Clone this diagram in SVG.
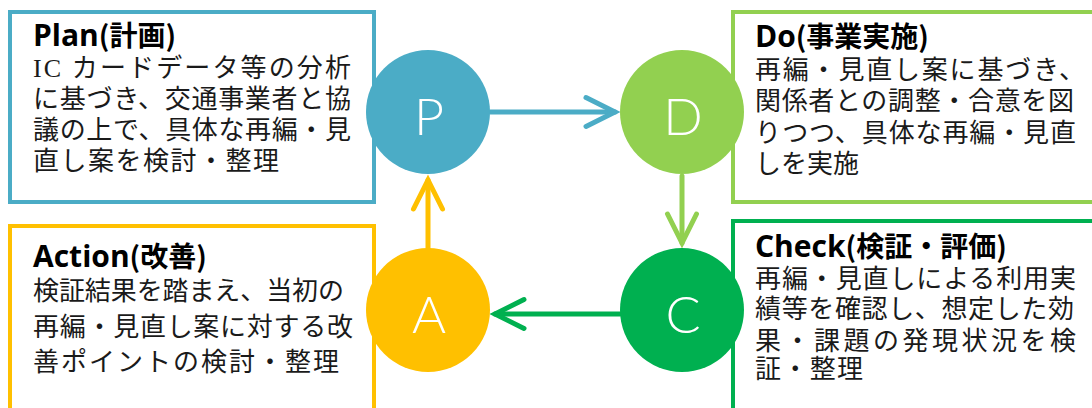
<svg xmlns="http://www.w3.org/2000/svg" width="1092" height="408" viewBox="0 0 1092 408">
<style>
.box{fill:#fff;stroke-width:4}
.title{font-family:"Open Sans","Lato","Noto Sans CJK JP",sans-serif;font-weight:bold;font-size:30px;fill:#000}
.title .j{font-family:"Noto Sans CJK JP",sans-serif;font-size:28px}
.body{font-family:"Noto Sans CJK JP",sans-serif;font-size:26px;fill:#1a1a1a}
.mono{font-family:"Liberation Serif",serif}
.letter{font-family:"Lato","Noto Sans",sans-serif;font-weight:300;font-size:52px;fill:#fff;text-anchor:middle}
.conn{fill:none;stroke-width:5;stroke-linecap:round}
</style>
<defs>
<marker id="hB" markerUnits="userSpaceOnUse" markerWidth="40" markerHeight="40" viewBox="-35 -20 40 40" refX="0" refY="0" orient="auto" overflow="visible"><path d="M-29,-14.5 L0,0 L-29,14.5" fill="none" stroke="#4BACC6" stroke-width="5" stroke-linecap="round" stroke-linejoin="miter"/></marker>
<marker id="hD" markerUnits="userSpaceOnUse" markerWidth="40" markerHeight="40" viewBox="-35 -20 40 40" refX="0" refY="0" orient="auto" overflow="visible"><path d="M-29,-14.5 L0,0 L-29,14.5" fill="none" stroke="#92D050" stroke-width="5" stroke-linecap="round" stroke-linejoin="miter"/></marker>
<marker id="hC" markerUnits="userSpaceOnUse" markerWidth="40" markerHeight="40" viewBox="-35 -20 40 40" refX="0" refY="0" orient="auto" overflow="visible"><path d="M-29,-14.5 L0,0 L-29,14.5" fill="none" stroke="#00B050" stroke-width="5" stroke-linecap="round" stroke-linejoin="miter"/></marker>
<marker id="hA" markerUnits="userSpaceOnUse" markerWidth="40" markerHeight="40" viewBox="-35 -20 40 40" refX="0" refY="0" orient="auto" overflow="visible"><path d="M-29,-14.5 L0,0 L-29,14.5" fill="none" stroke="#FFC000" stroke-width="5" stroke-linecap="round" stroke-linejoin="miter"/></marker>
</defs>
<rect width="1092" height="408" fill="#fff"/>

<g id="plan">
<rect class="box" x="10" y="12" width="364" height="190" stroke="#4BACC6"/>
<text class="title" x="33" y="46">Plan<tspan class="j">(計画)</tspan></text>
<text class="body" x="33" y="77" textLength="318" lengthAdjust="spacing"><tspan class="mono">IC </tspan>カードデータ等の分析</text>
<text class="body" x="33" y="108" textLength="318" lengthAdjust="spacing">に基づき、交通事業者と協</text>
<text class="body" x="33" y="139" textLength="318" lengthAdjust="spacing">議の上で、具体な再編・見</text>
<text class="body" x="33" y="170" textLength="246" lengthAdjust="spacing">直し案を検討・整理</text>
</g>

<g id="do">
<rect class="box" x="733" y="12" width="380" height="190" stroke="#92D050"/>
<text class="title" x="755" y="47">Do<tspan class="j">(事業実施)</tspan></text>
<text class="body" x="755" y="79" textLength="330" lengthAdjust="spacing">再編・見直し案に基づき、</text>
<text class="body" x="755" y="110" textLength="319" lengthAdjust="spacing">関係者との調整・合意を図</text>
<text class="body" x="755" y="142" textLength="321" lengthAdjust="spacing">りつつ、具体な再編・見直</text>
<text class="body" x="755" y="173">しを実施</text>
</g>

<g id="check">
<rect class="box" x="733" y="221" width="380" height="200" stroke="#00B050"/>
<text class="title" x="755" y="257">Check<tspan class="j">(検証・評価)</tspan></text>
<text class="body" x="755" y="288" textLength="321" lengthAdjust="spacing">再編・見直しによる利用実</text>
<text class="body" x="755" y="318" textLength="319" lengthAdjust="spacing">績等を確認し、想定した効</text>
<text class="body" x="755" y="350" textLength="321" lengthAdjust="spacing">果・課題の発現状況を検</text>
<text class="body" x="755" y="378" textLength="108" lengthAdjust="spacing">証・整理</text>
</g>

<g id="action">
<rect class="box" x="10" y="226" width="364" height="200" stroke="#FFC000"/>
<text class="title" x="33" y="267">Action<tspan class="j">(改善)</tspan></text>
<text class="body" x="33" y="300" textLength="311" lengthAdjust="spacing">検証結果を踏まえ、当初の</text>
<text class="body" x="33" y="336" textLength="320" lengthAdjust="spacing">再編・見直し案に対する改</text>
<text class="body" x="33" y="371" textLength="306" lengthAdjust="spacing">善ポイントの検討・整理</text>
</g>

<g id="connectors">
<path class="conn" d="M490,112 H615" stroke="#4BACC6" marker-end="url(#hB)"/>
<path class="conn" d="M682,176 V243" stroke="#92D050" marker-end="url(#hD)"/>
<path class="conn" d="M620,314 H495" stroke="#00B050" marker-end="url(#hC)"/>
<path class="conn" d="M428,248 V180" stroke="#FFC000" marker-end="url(#hA)"/>
</g>

<g id="P"><circle cx="428" cy="112" r="62" fill="#4BACC6"/><text class="letter" x="429" y="135">P</text></g>
<g id="D"><circle cx="682" cy="112" r="62" fill="#92D050"/><text class="letter" x="683" y="135">D</text></g>
<g id="C"><circle cx="682" cy="310" r="62" fill="#00B050"/><text class="letter" x="683" y="333">C</text></g>
<g id="A"><circle cx="428" cy="310" r="62" fill="#FFC000"/><text class="letter" x="429" y="333">A</text></g>
</svg>
